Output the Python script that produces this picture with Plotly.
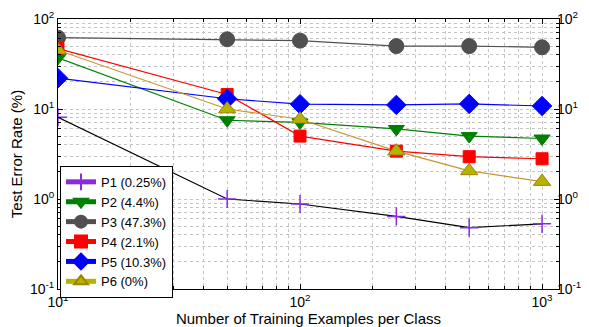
import plotly.graph_objects as go

x_vals = [10, 50, 100, 250, 500, 1000]
names = ["P1 (0.25%)", "P2 (4.4%)", "P3 (47.3%)", "P4 (2.1%)", "P5 (10.3%)", "P6 (0%)"]
p1 = [8.1, 1.0, 0.88, 0.64, 0.48, 0.53]
p2 = [37.0, 7.5, 7.1, 6.0, 5.0, 4.7]
p3 = [62.0, 59.5, 57.5, 50.0, 50.0, 48.5]
p4 = [47.0, 14.5, 5.0, 3.4, 2.95, 2.8]
p5 = [22.0, 13.0, 11.3, 11.1, 11.4, 10.8]
p6 = [45.0, 10.0, 7.7, 3.4, 2.05, 1.56]
series = [p1, p2, p3, p4, p5, p6]

x_tickvals = [10, 100, 1000]
x_ticktext = ["10<sup>1</sup>", "10<sup>2</sup>", "10<sup>3</sup>"]
y_tickvals = [0.1, 1, 10, 100]
y_ticktext = ["10<sup>-1</sup>", "10<sup>0</sup>", "10<sup>1</sup>", "10<sup>2</sup>"]
minor_x = [d * m for d in [10, 100, 1000] for m in range(2, 10)]
minor_y = [d * m for d in [0.1, 1, 10] for m in range(2, 10)]

line_colors = ["#000000", "#008000", "#505050", "#ff0000", "#0000ff", "#c8962d"]
marker_colors = ["#8a2be2", "#008000", "#505050", "#ff0000", "#0000ff", "#b4b400"]
marker_edge = ["#8a2be2", "#008000", "#505050", "#ff0000", "#0000ff", "#a08000"]
symbols = ["cross-thin", "triangle-down", "circle", "square", "diamond", "triangle-up"]
sizes = [13, 14, 15, 12, 15, 15]

fig = go.Figure()
for i, ys in enumerate(series):
    fig.add_trace(go.Scatter(x=x_vals, y=ys, mode="lines", showlegend=False,
                             line=dict(color=line_colors[i], width=1.2), hoverinfo="skip"))
for i, ys in enumerate(series):
    lw = 1.5 if symbols[i] == "cross-thin" else 1
    fig.add_trace(go.Scatter(x=x_vals, y=ys, mode="markers", showlegend=False,
                             marker=dict(symbol=symbols[i], size=sizes[i], color=marker_colors[i],
                                         line=dict(color=marker_edge[i], width=lw))))
for i, nm in enumerate(names):
    lw = 1.5 if symbols[i] == "cross-thin" else 1
    fig.add_trace(go.Scatter(x=[None], y=[None], mode="lines+markers", name=nm, yaxis="y2",
                             line=dict(color=marker_colors[i], width=1.2),
                             marker=dict(symbol=symbols[i], size=sizes[i], color=marker_colors[i],
                                         line=dict(color=marker_edge[i], width=lw))))

grid = "#c4c4c4"
axis_common = dict(type="log", showline=True, linecolor="black", linewidth=1,
                   ticks="inside", ticklen=5, tickcolor="black", tickmode="array",
                   showgrid=True, gridcolor=grid, griddash="dot", gridwidth=1,
                   zeroline=False, tickfont=dict(size=14, color="black"), automargin=False)

fig.update_layout(
    width=581, height=319,
    margin=dict(l=50, r=30, t=11, b=38),
    paper_bgcolor="white", plot_bgcolor="white",
    font=dict(family="Liberation Sans, Arial, sans-serif", size=13, color="black"),
    xaxis=dict(range=[1, 3.07], mirror="ticks", tickvals=x_tickvals, ticktext=x_ticktext,
               minor=dict(tickmode="array", tickvals=minor_x, ticks="inside", ticklen=3,
                          tickcolor="black", showgrid=True, gridcolor=grid, griddash="dot", gridwidth=1),
               title=dict(text="Number of Training Examples per Class", font=dict(size=15), standoff=0),
               **axis_common),
    yaxis=dict(range=[-1, 2], mirror="ticks", tickvals=y_tickvals, ticktext=y_ticktext,
               minor=dict(tickmode="array", tickvals=minor_y, ticks="inside", ticklen=3,
                          tickcolor="black", showgrid=True, gridcolor=grid, griddash="dot", gridwidth=1),
               title=dict(text="Test Error Rate (%)", font=dict(size=15), standoff=4),
               **axis_common),
    yaxis2=dict(range=[-1, 2], overlaying="y", side="right", type="log", tickmode="array",
                tickvals=y_tickvals, ticktext=y_ticktext, ticks="", showgrid=False, ticklabelstandoff=-3,
                showline=False, zeroline=False, tickfont=dict(size=14, color="black"), automargin=False),
    legend=dict(x=0.004, y=0.456, xanchor="left", yanchor="top",
                bgcolor="white", bordercolor="black", borderwidth=1,
                font=dict(size=13), tracegroupgap=0, itemwidth=30, itemsizing="constant"),
    showlegend=True,
)

fig.write_html("out.html")
